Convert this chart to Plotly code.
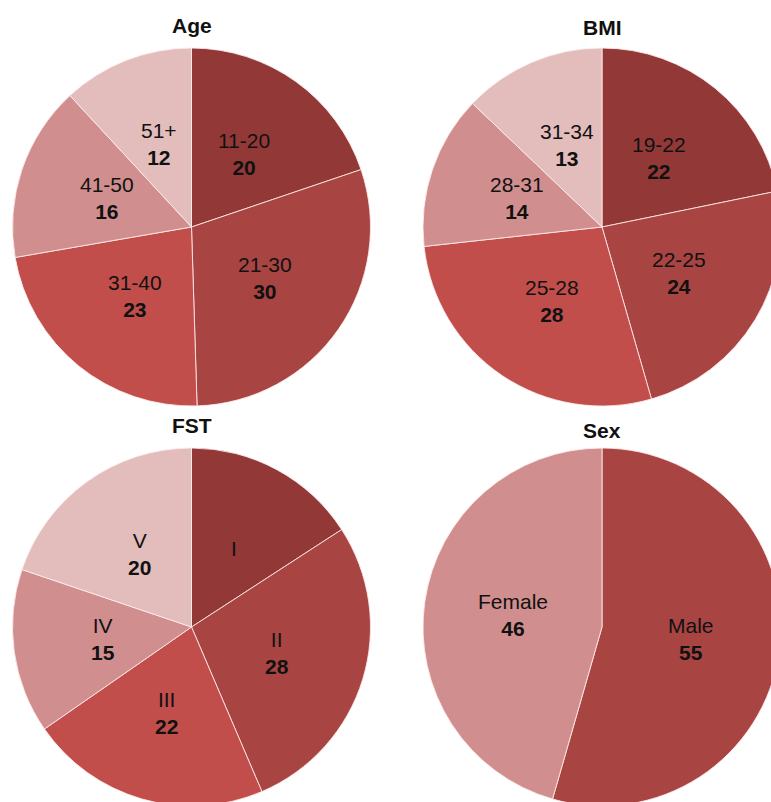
import math
import plotly.graph_objects as go

# ---- data ----
age_labels = ["11-20", "21-30", "31-40", "41-50", "51+"]
age_values = [20, 30, 23, 16, 12]

bmi_labels = ["19-22", "22-25", "25-28", "28-31", "31-34"]
bmi_values = [22, 24, 28, 14, 13]

fst_labels = ["I", "II", "III", "IV", "V"]
fst_values = [16, 28, 22, 15, 20]
fst_shown = ["", "28", "22", "15", "20"]  # the "I" slice carries no number in the original

sex_labels = ["Male", "Female"]
sex_values = [55, 46]

titles = ["Age", "BMI", "FST", "Sex"]

# ---- style ----
five_colors = ["#923938", "#A84442", "#C24E4C", "#D08F8E", "#E2BDBC"]
sex_colors = ["#A84442", "#D08F8E"]
FONT = "Liberation Sans, Arial, sans-serif"
FS = 21
W, H = 781, 808
R = 179
LABEL_R = 0.5  # labels sit half-way out along each slice's bisector


def dom(cx, cy):
    return dict(x=[(cx - R) / W, (cx + R) / W],
                y=[1 - (cy + R) / H, 1 - (cy - R) / H])


panels = [
    (age_labels, age_values, [str(v) for v in age_values], five_colors, (191.5, 227)),
    (bmi_labels, bmi_values, [str(v) for v in bmi_values], five_colors, (602, 227)),
    (fst_labels, fst_values, fst_shown, five_colors, (191.5, 627)),
    (sex_labels, sex_values, [str(v) for v in sex_values], sex_colors, (602, 627)),
]

fig = go.Figure()
for labels, values, shown, colors, (cx, cy) in panels:
    fig.add_trace(go.Pie(
        labels=labels, values=values, textinfo="none",
        sort=False, direction="clockwise", rotation=0,
        marker=dict(colors=colors, line=dict(color="rgba(255,235,235,0.85)", width=1)),
        domain=dom(cx, cy), showlegend=False, hoverinfo="label+value",
    ))
    total = sum(values)
    cum = 0
    for lab, v, s in zip(labels, values, shown):
        mid = 2 * math.pi * (cum + v / 2) / total
        cum += v
        px = cx + LABEL_R * R * math.sin(mid)
        py = cy - LABEL_R * R * math.cos(mid)
        txt = f"{lab}<br><b>{s}</b>" if s else lab
        fig.add_annotation(text=txt, x=px / W, y=1 - py / H, xref="paper", yref="paper",
                           showarrow=False, xanchor="center", yanchor="middle", align="center",
                           font=dict(family=FONT, size=FS, color="#111111"))

title_pos = [(191.5, 25), (602, 27), (191.5, 425), (602, 430)]
for t, (x, y) in zip(titles, title_pos):
    fig.add_annotation(text=f"<b>{t}</b>", x=x / W, y=1 - y / H, xref="paper", yref="paper",
                       showarrow=False, xanchor="center", yanchor="middle",
                       font=dict(family=FONT, size=FS, color="#111111"))

fig.update_layout(
    width=W, height=H, margin=dict(l=0, r=0, t=0, b=0),
    paper_bgcolor="white", plot_bgcolor="white",
)

fig.write_html("out.html",
               post_script="document.body.style.overflow='hidden';document.documentElement.style.overflow='hidden';document.body.style.margin='0';")
